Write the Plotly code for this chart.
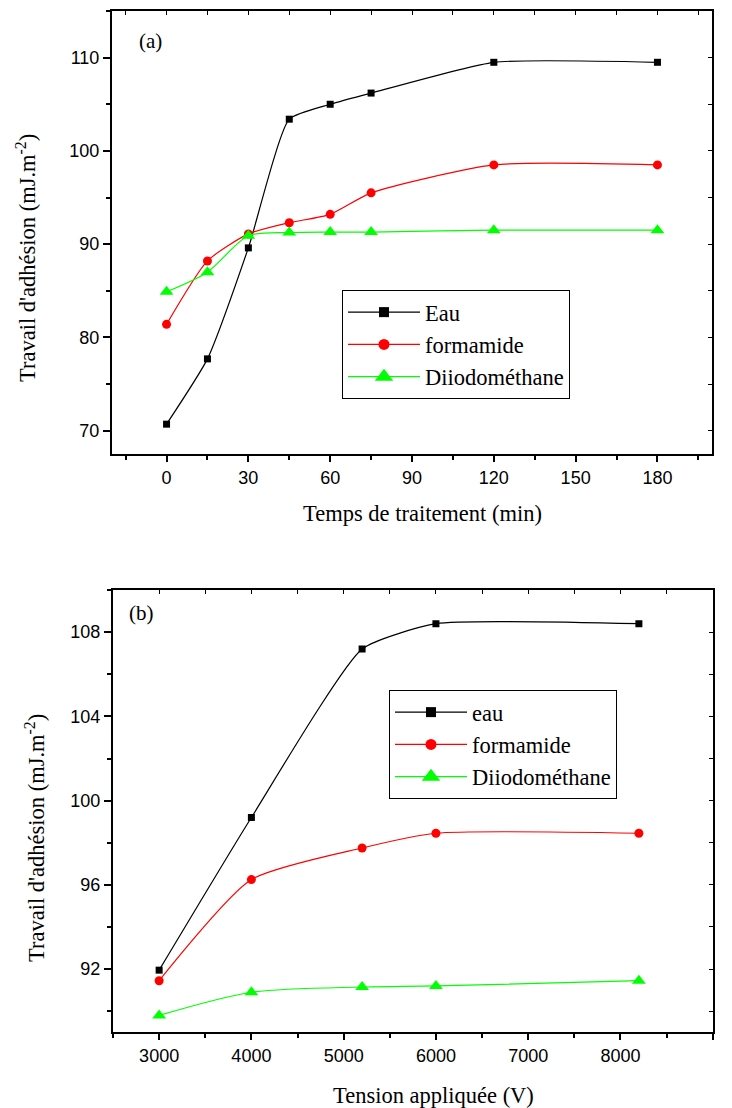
import plotly.graph_objects as go

# ---- data (a) ----
t_min = [0, 15, 30, 45, 60, 75, 120, 180]
eau_a = [70.7, 77.7, 89.6, 103.4, 105.0, 106.2, 109.5, 109.5]
form_a = [81.4, 88.2, 91.1, 92.3, 93.2, 95.5, 98.5, 98.5]
diio_a = [84.9, 87.0, 90.9, 91.25, 91.3, 91.3, 91.5, 91.5]
names_a = ["Eau", "formamide", "Diiodométhane"]

# ---- data (b) ----
tension = [3000, 4000, 5200, 6000, 8200]
eau_b = [91.95, 99.2, 107.2, 108.4, 108.4]
form_b = [91.45, 96.25, 97.75, 98.45, 98.45]
diio_b = [89.8, 90.9, 91.15, 91.2, 91.45]
names_b = ["eau", "formamide", "Diiodométhane"]

colors = ["#000000", "#FF0000", "#00FF00"]
symbols = ["square", "circle", "triangle-up"]
msizes = [7, 9, 12]
leg_msizes = [10, 11, 16]
smooth = [0.5, 0.6, 0.8]

W, H = 732, 1108
def px_x(p): return p / W
def px_y(p): return 1 - p / H

X1 = [px_x(112), px_x(712)]
Y1 = [px_y(454), px_y(11)]
X2 = [px_x(113), px_x(712.7)]
Y2 = [px_y(1032.3), px_y(590)]

SERIF = "Times New Roman, Liberation Serif, Times, serif"
SANS = "Arial, Liberation Sans, Helvetica, sans-serif"

fig = go.Figure()

def add_panel(xs, series, names, xa, ya, leg):
    for ys, nm, c, s, ms, lms, sm in zip(series, names, colors, symbols,
                                         msizes, leg_msizes, smooth):
        fig.add_trace(go.Scatter(
            x=xs, y=ys, name=nm, mode="lines+markers", showlegend=False,
            line=dict(color=c, width=1.2, shape="spline", smoothing=sm),
            marker=dict(symbol=s, size=ms, color=c),
            xaxis=xa, yaxis=ya))
        # legend entry (same style, larger glyph like the original)
        fig.add_trace(go.Scatter(
            x=[None], y=[None], name=nm, mode="lines+markers",
            line=dict(color=c, width=1.2),
            marker=dict(symbol=s, size=lms, color=c),
            xaxis=xa, yaxis=ya, legend=leg, hoverinfo="skip"))

add_panel(t_min, [eau_a, form_a, diio_a], names_a, "x", "y", "legend")
add_panel(tension, [eau_b, form_b, diio_b], names_b, "x2", "y2", "legend2")

# dummy traces so the inner mirror-tick axes are drawn
fig.add_trace(go.Scatter(x=[None], y=[None], xaxis="x3", yaxis="y3",
                         showlegend=False, hoverinfo="skip"))
fig.add_trace(go.Scatter(x=[None], y=[None], xaxis="x4", yaxis="y4",
                         showlegend=False, hoverinfo="skip"))

tickfont = dict(family=SANS, size=18, color="black")

def main_axis(domain, anchor, rng, dtick, mdtick, tlen=7):
    return dict(domain=domain, anchor=anchor, range=rng, tick0=0, dtick=dtick,
                ticks="outside", ticklen=tlen, tickwidth=1.5, tickcolor="black",
                minor=dict(dtick=mdtick, tick0=0, ticks="outside", ticklen=4,
                           tickwidth=1.5, tickcolor="black"),
                showline=True, linewidth=2, linecolor="black", mirror=True,
                showgrid=False, zeroline=False, tickfont=tickfont)

def inner_axis(over, anchor, side, rng, dtick):
    return dict(overlaying=over, anchor=anchor, side=side, range=rng, tick0=0,
                dtick=dtick, ticks="inside", ticklen=4, tickwidth=1.2,
                tickcolor="black", showticklabels=False, showline=False,
                showgrid=False, zeroline=False)

FS = 22.5
legend_common = dict(xanchor="left", yanchor="top", bgcolor="white",
                     bordercolor="black", borderwidth=1,
                     font=dict(family=SERIF, size=FS, color="black"),
                     itemwidth=72, tracegroupgap=0)

ytitle = "Travail d'adhésion (mJ.m<sup>-2</sup>)"

def ann(text, x, y, size=FS, angle=0):
    return dict(text=text, x=px_x(x), y=px_y(y), xref="paper", yref="paper",
                xanchor="center", yanchor="middle", textangle=angle,
                showarrow=False, font=dict(family=SERIF, size=size, color="black"))

fig.update_layout(
    width=W, height=H, autosize=False,
    margin=dict(l=0, r=0, t=0, b=0),
    paper_bgcolor="white", plot_bgcolor="white",
    xaxis=main_axis(X1, "y", [-20, 200], 30, 15, 6),
    yaxis=main_axis(Y1, "x", [67.5, 115], 10, 5),
    xaxis2=main_axis(X2, "y2", [2500, 9000], 1000, 500, 6),
    yaxis2=main_axis(Y2, "x2", [89, 110], 4, 2),
    xaxis3=inner_axis("x", "y", "top", [-20, 200], 15),
    yaxis3=inner_axis("y", "x", "right", [67.5, 115], 5),
    xaxis4=inner_axis("x2", "y2", "top", [2500, 9000], 500),
    yaxis4=inner_axis("y2", "x2", "right", [89, 110], 2),
    legend=dict(x=px_x(342), y=px_y(290), **legend_common),
    legend2=dict(x=px_x(389), y=px_y(690), **legend_common),
    annotations=[
        ann("(a)", 150.5, 41, 21),
        ann("(b)", 141.5, 613, 21),
        ann("Temps de traitement (min)", 422.5, 514),
        ann("Tension appliquée (V)", 433, 1095),
        ann(ytitle, 26, 258, angle=-90),
        ann(ytitle, 35, 838, angle=-90),
    ],
)

fig.write_html("out.html")
